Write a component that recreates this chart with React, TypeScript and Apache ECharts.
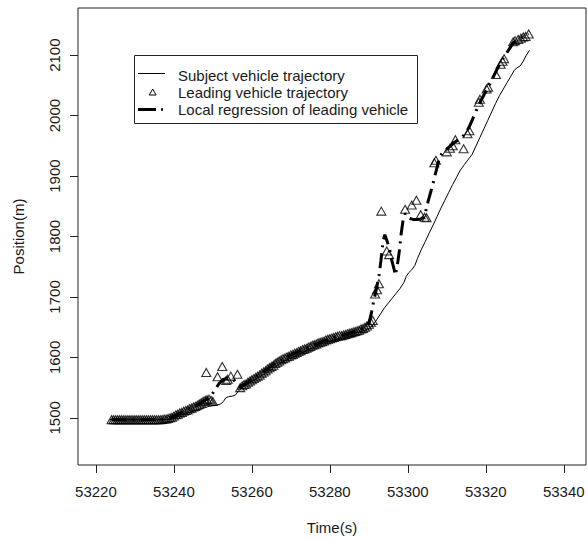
import React, { useEffect, useRef } from "react";
import * as echarts from "echarts";

// Time ticks and position ticks
const xTicks = [53220, 53240, 53260, 53280, 53300, 53320, 53340];
const yTicks = [1500, 1600, 1700, 1800, 1900, 2000, 2100];

// Subject vehicle trajectory [time, position]
const subjectTime = [
  53223.5, 53225, 53228, 53231, 53234, 53237, 53239, 53240, 53241, 53242, 53243, 53244, 53245, 53246,
  53247, 53248, 53249, 53250, 53251, 53252, 53252.7, 53253.3, 53254, 53255, 53255.8, 53256.5, 53257.3,
  53258, 53259, 53260, 53261, 53262, 53263, 53264, 53265, 53266, 53267, 53268, 53269, 53270, 53271,
  53272, 53273, 53274, 53275, 53276, 53277, 53278, 53279, 53280, 53281, 53282, 53283, 53284, 53285,
  53286, 53287, 53288, 53289, 53290, 53291, 53292, 53293, 53294, 53295, 53296, 53297, 53298, 53299,
  53299.6, 53300.2, 53301, 53301.8, 53302.5, 53303.5, 53304.5, 53305.5, 53306.5, 53307.5, 53308.5,
  53309.5, 53310.5, 53311.5, 53312.5, 53313.5, 53314.5, 53315.2, 53315.8, 53316.5, 53317.5, 53318.5,
  53319.5, 53320.5, 53321.5, 53322.5, 53323.5, 53324.5, 53325.5, 53326.5, 53327.3, 53328, 53328.8,
  53329.6, 53330.4, 53331.2,
];
const subjectPos = [
  1497, 1497, 1497, 1497, 1496.5, 1497, 1497.5, 1499, 1502, 1505, 1507, 1509, 1511, 1513,
  1515, 1517, 1519, 1520, 1521, 1523, 1527, 1533, 1535, 1536, 1538, 1544, 1549,
  1552, 1556, 1560, 1564, 1568, 1572, 1576, 1580, 1585, 1589, 1593, 1596, 1599, 1602,
  1605, 1608, 1611, 1614, 1617, 1620, 1623, 1625, 1627, 1629, 1631, 1633, 1635, 1637,
  1639, 1641, 1643, 1645, 1648, 1653, 1662, 1672, 1682, 1690, 1698, 1706, 1714, 1724,
  1734, 1740, 1745, 1752, 1764, 1779, 1792, 1806, 1819, 1833, 1847,
  1860, 1873, 1886, 1898, 1910, 1919, 1925, 1930, 1936, 1950, 1964,
  1978, 1992, 2006, 2020, 2033, 2044, 2055, 2066, 2075, 2079, 2082,
  2090, 2100, 2108,
];

// Leading vehicle trajectory (triangles)
const leadTime = [
  53224, 53224.5, 53225, 53225.5, 53226, 53226.5, 53227, 53227.5, 53228, 53228.5, 53229, 53229.5,
  53230, 53230.5, 53231, 53231.5, 53232, 53232.5, 53233, 53233.5, 53234, 53234.5, 53235, 53235.5,
  53236, 53236.5, 53237, 53237.5, 53238, 53238.5, 53239,
  53239.5, 53240, 53240.5, 53241, 53241.5, 53242, 53242.5, 53243, 53243.5, 53244, 53244.5, 53245,
  53245.5, 53246, 53246.5, 53247, 53247.5, 53248, 53248.5, 53249, 53249.5, 53250,
  53248.3, 53251.2, 53252.4, 53253.4, 53253.8, 53254.6, 53256.3,
  53257, 53257.5, 53258, 53258.5, 53259, 53259.5, 53260, 53260.5, 53261, 53261.5, 53262, 53262.5,
  53263, 53263.5, 53264, 53264.5, 53265, 53265.5, 53266, 53266.5, 53267, 53267.5, 53268, 53268.5,
  53269, 53269.5, 53270, 53270.5, 53271, 53271.5, 53272, 53272.5, 53273, 53273.5, 53274, 53274.5,
  53275, 53275.5, 53276, 53276.5, 53277, 53277.5, 53278, 53278.5, 53279, 53279.5, 53280, 53280.5,
  53281, 53281.5, 53282, 53282.5, 53283, 53283.5, 53284, 53284.5, 53285, 53285.5, 53286, 53286.5,
  53287, 53287.5, 53288, 53288.5, 53289, 53289.5, 53290,
  53290.5, 53291, 53291.6, 53292.1, 53292.6, 53293.2, 53294.6, 53295.2, 53299.3, 53301, 53302.2,
  53303.3, 53304.3, 53304.8, 53306.8, 53307.2, 53310, 53310.8, 53311.5, 53312.2, 53314.3, 53315.3,
  53315.8, 53318.2, 53318.5, 53320.2, 53320.6, 53322.6, 53323.8, 53324.3, 53324.7, 53327, 53327.5,
  53328.3, 53329, 53329.6, 53330.2, 53331,
];
const leadPos = [
  1497, 1497, 1497, 1497, 1497, 1497, 1497, 1497, 1497, 1497, 1497, 1497,
  1497, 1497, 1497, 1497, 1497, 1497, 1497, 1497, 1497, 1497, 1497, 1497,
  1497, 1497, 1497.5, 1498, 1498, 1499, 1500,
  1501, 1503, 1505, 1506, 1508, 1509, 1511, 1512, 1513, 1515, 1516, 1518,
  1519, 1521, 1523, 1525, 1527, 1529, 1530, 1531, 1529, 1527,
  1575, 1568, 1585, 1562, 1564, 1569, 1572,
  1550, 1553, 1555, 1556, 1559, 1561, 1563, 1565, 1567, 1569, 1571, 1574,
  1576, 1578, 1581, 1583, 1585, 1587, 1590, 1592, 1594, 1596, 1598, 1599,
  1601, 1602, 1604, 1605, 1607, 1608, 1610, 1611, 1613, 1614, 1615, 1617,
  1618, 1620, 1621, 1622, 1624, 1625, 1626, 1627, 1629, 1630, 1631, 1632,
  1633, 1634, 1635, 1636, 1636, 1637, 1638, 1639, 1640, 1641, 1642, 1643,
  1644, 1645, 1647, 1648, 1650, 1652, 1655,
  1658, 1661, 1705, 1712, 1722, 1842, 1776, 1770, 1845, 1852, 1860,
  1836, 1832, 1831, 1922, 1926, 1940, 1946, 1950, 1960, 1945, 1970,
  1975, 2022, 2027, 2044, 2047, 2068, 2085, 2090, 2094, 2122, 2124,
  2126, 2128, 2130, 2131, 2135,
];

// Local regression of leading vehicle
const regTime = [
  53224, 53230, 53236, 53238, 53240, 53242, 53244, 53246, 53247.5, 53248.5, 53249.5, 53250.5,
  53251.5, 53252.5, 53253.5, 53254.5, 53255.3, 53256, 53257, 53258, 53260, 53263, 53266, 53269,
  53272, 53275, 53278, 53281, 53284, 53287, 53289, 53290, 53290.7, 53291.3, 53292, 53292.6,
  53293.1, 53293.6, 53294.1, 53294.7, 53295.3, 53295.9, 53296.5, 53296.8, 53297.3, 53297.8,
  53298.3, 53298.8, 53299.3, 53299.8, 53300.5, 53301.5, 53302.5, 53303.3, 53304, 53304.6,
  53305.2, 53305.8, 53306.4, 53307, 53307.6, 53308.2, 53309, 53310, 53311, 53312, 53313, 53314,
  53315, 53316, 53317, 53318, 53319, 53320, 53321, 53322, 53323, 53324, 53325, 53326, 53327,
  53328, 53329, 53330, 53331,
];
const regPos = [
  1497, 1497, 1497, 1498, 1503, 1509, 1515, 1521, 1527, 1531, 1536, 1546,
  1556, 1563, 1565, 1566, 1563, 1557, 1551, 1555, 1563, 1576, 1590, 1601,
  1610, 1618, 1626, 1633, 1638, 1644, 1650, 1656, 1675, 1695, 1715, 1735,
  1760, 1790, 1803, 1792, 1780, 1760, 1745, 1736, 1752, 1775,
  1805, 1828, 1838, 1834, 1830, 1828, 1828, 1829, 1832, 1842,
  1858, 1872, 1886, 1902, 1917, 1932, 1940, 1945, 1950, 1956, 1960, 1965,
  1972, 1985, 2000, 2015, 2028, 2040, 2052, 2065, 2078, 2090, 2100, 2110, 2120,
  2125, 2128, 2132, 2135,
];

const FONT = "'Liberation Sans', Arial, sans-serif";
const TXT = "#1a1a1a";
const FS = 15;

export default function App() {
  const ref = useRef<HTMLDivElement>(null);
  useEffect(() => {
    if (!ref.current) return;
    const chart = echarts.init(ref.current, null, { renderer: "svg" });
    const zip = (a: number[], b: number[]) => a.map((v, i) => [v, b[i]]);
    const legendX = 134;
    const legendY = 55;
    const plain = (v: number) => String(v);
    chart.setOption({
      animation: false,
      backgroundColor: "#fff",
      textStyle: { fontFamily: FONT },
      grid: {
        left: 78,
        right: 2,
        top: 8,
        bottom: 74,
        show: true,
        borderColor: "#222",
        borderWidth: 1,
        backgroundColor: "#fff",
      },
      xAxis: {
        type: "value",
        min: 53215.4,
        max: 53345.7,
        name: "Time(s)",
        nameLocation: "middle",
        nameGap: 55,
        nameTextStyle: { fontSize: FS, color: TXT, fontFamily: FONT },
        axisLine: { show: false },
        splitLine: { show: false },
        axisTick: { show: true, inside: false, length: 8, customValues: xTicks, lineStyle: { color: "#222" } },
        axisLabel: { customValues: xTicks, formatter: plain, margin: 19, fontSize: FS, color: TXT, fontFamily: FONT },
      },
      yAxis: {
        type: "value",
        min: 1422,
        max: 2178,
        name: "Position(m)",
        nameLocation: "middle",
        nameGap: 52,
        nameTextStyle: { fontSize: FS, color: TXT, fontFamily: FONT },
        axisLine: { show: false },
        splitLine: { show: false },
        axisTick: { show: true, inside: false, length: 8, customValues: yTicks, lineStyle: { color: "#222" } },
        axisLabel: { customValues: yTicks, formatter: plain, margin: 16, rotate: 90, fontSize: FS, color: TXT, fontFamily: FONT },
      },
      series: [
        {
          name: "Subject vehicle trajectory",
          type: "line",
          data: zip(subjectTime, subjectPos),
          showSymbol: false,
          symbol: "none",
          lineStyle: { color: "#000", width: 1 },
          z: 2,
        },
        {
          name: "Leading vehicle trajectory",
          type: "scatter",
          data: zip(leadTime, leadPos),
          symbol: "triangle",
          symbolSize: [9, 8],
          itemStyle: { color: "rgba(0,0,0,0)", borderColor: "#000", borderWidth: 1.1 },
          z: 3,
        },
        {
          name: "Local regression of leading vehicle",
          type: "line",
          data: zip(regTime, regPos),
          showSymbol: false,
          symbol: "none",
          lineStyle: { color: "#000", width: 3, type: [15, 6, 2, 6] },
          z: 4,
        },
      ],
      graphic: [
        {
          type: "group",
          z: 100,
          children: [
            {
              type: "rect",
              shape: { x: legendX + 0.5, y: legendY + 0.5, width: 283, height: 68 },
              style: { fill: "#fff", stroke: "#222", lineWidth: 1 },
            },
            {
              type: "line",
              shape: { x1: 138, y1: 73.5, x2: 165, y2: 73.5 },
              style: { stroke: "#000", lineWidth: 1 },
            },
            {
              type: "polygon",
              shape: { points: [[149.3, 95], [152.7, 89], [156.1, 95]] },
              style: { fill: "none", stroke: "#000", lineWidth: 1 },
            },
            {
              type: "line",
              shape: { x1: 138, y1: 109.5, x2: 156, y2: 109.5 },
              style: { stroke: "#000", lineWidth: 3 },
            },
            {
              type: "line",
              shape: { x1: 161, y1: 109.5, x2: 163, y2: 109.5 },
              style: { stroke: "#000", lineWidth: 2.5 },
            },
            {
              type: "text",
              x: 178,
              y: 75,
              style: { text: "Subject vehicle trajectory", fontSize: FS, fontFamily: FONT, fill: TXT, verticalAlign: "middle" },
            },
            {
              type: "text",
              x: 178,
              y: 92,
              style: { text: "Leading vehicle trajectory", fontSize: FS, fontFamily: FONT, fill: TXT, verticalAlign: "middle" },
            },
            {
              type: "text",
              x: 178,
              y: 109.5,
              style: { text: "Local regression of leading vehicle", fontSize: FS, fontFamily: FONT, fill: TXT, verticalAlign: "middle" },
            },
          ],
        },
      ],
    });
    return () => chart.dispose();
  }, []);
  return <div ref={ref} style={{ position: "fixed", left: 0, top: 0, width: 588, height: 540 }} />;
}
